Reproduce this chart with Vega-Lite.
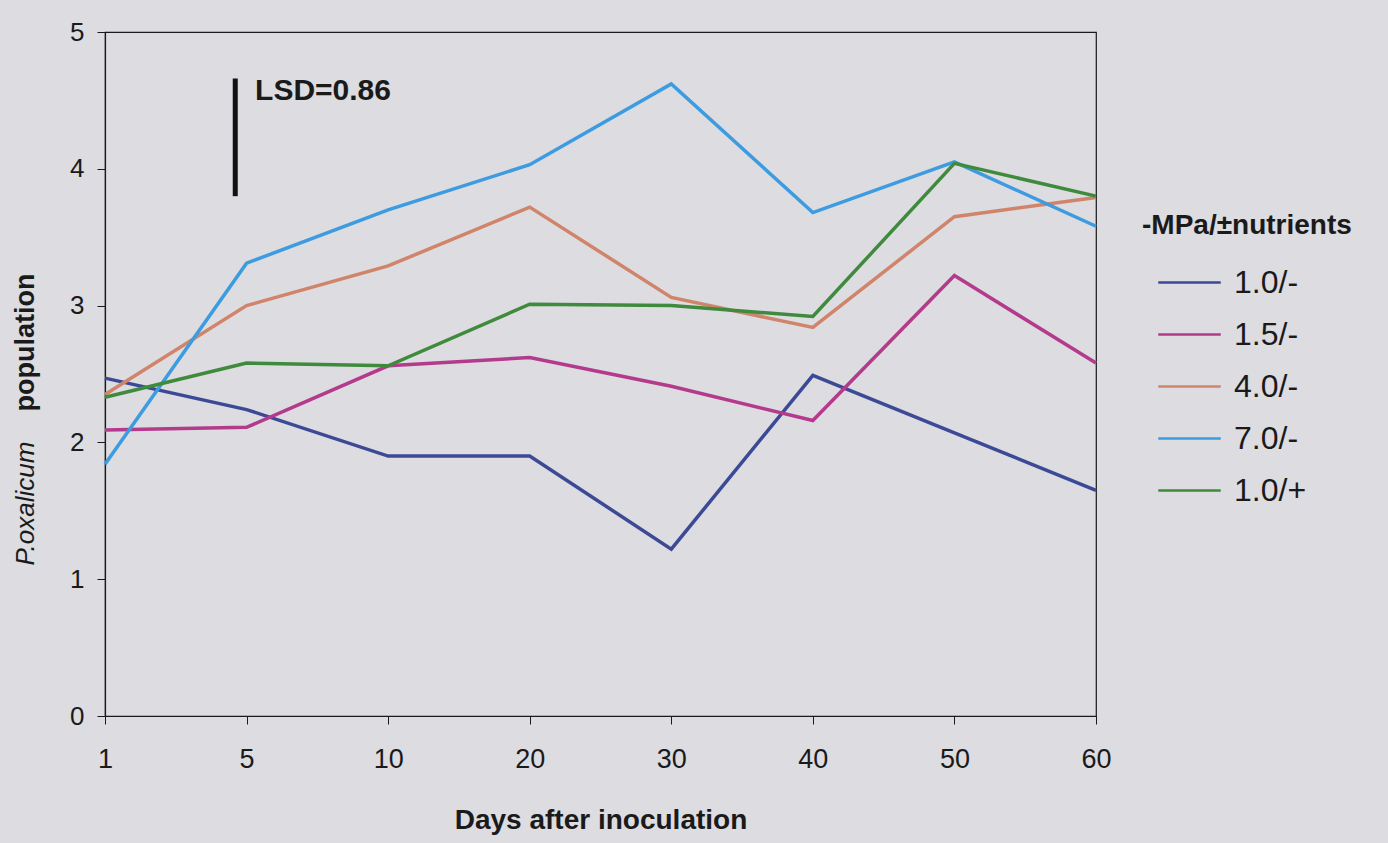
{
  "$schema": "https://vega.github.io/schema/vega-lite/v6.json",
  "width": 991,
  "height": 684,
  "autosize": {"type": "none"},
  "padding": {"left": 105, "top": 32, "right": 292, "bottom": 127},
  "background": "#dcdce1",
  "config": {
    "font": "Liberation Sans",
    "view": {"stroke": "#1a1a1a", "strokeWidth": 1.2},
    "axis": {
      "grid": false,
      "domainColor": "#1a1a1a",
      "tickColor": "#1a1a1a",
      "labelColor": "#1a1a1a",
      "titleColor": "#1a1a1a",
      "labelFont": "Liberation Sans",
      "titleFont": "Liberation Sans"
    }
  },
  "data": {
    "values": [
      {"series": "1.0/-", "day": 1, "value": 2.47},
      {"series": "1.0/-", "day": 5, "value": 2.24},
      {"series": "1.0/-", "day": 10, "value": 1.9},
      {"series": "1.0/-", "day": 20, "value": 1.9},
      {"series": "1.0/-", "day": 30, "value": 1.22},
      {"series": "1.0/-", "day": 40, "value": 2.49},
      {"series": "1.0/-", "day": 50, "value": 2.07},
      {"series": "1.0/-", "day": 60, "value": 1.65},
      {"series": "1.5/-", "day": 1, "value": 2.09},
      {"series": "1.5/-", "day": 5, "value": 2.11},
      {"series": "1.5/-", "day": 10, "value": 2.56},
      {"series": "1.5/-", "day": 20, "value": 2.62},
      {"series": "1.5/-", "day": 30, "value": 2.41},
      {"series": "1.5/-", "day": 40, "value": 2.16},
      {"series": "1.5/-", "day": 50, "value": 3.22},
      {"series": "1.5/-", "day": 60, "value": 2.58},
      {"series": "4.0/-", "day": 1, "value": 2.35},
      {"series": "4.0/-", "day": 5, "value": 3.0},
      {"series": "4.0/-", "day": 10, "value": 3.29},
      {"series": "4.0/-", "day": 20, "value": 3.72},
      {"series": "4.0/-", "day": 30, "value": 3.06},
      {"series": "4.0/-", "day": 40, "value": 2.84},
      {"series": "4.0/-", "day": 50, "value": 3.65},
      {"series": "4.0/-", "day": 60, "value": 3.79},
      {"series": "7.0/-", "day": 1, "value": 1.84},
      {"series": "7.0/-", "day": 5, "value": 3.31},
      {"series": "7.0/-", "day": 10, "value": 3.7},
      {"series": "7.0/-", "day": 20, "value": 4.03},
      {"series": "7.0/-", "day": 30, "value": 4.62},
      {"series": "7.0/-", "day": 40, "value": 3.68},
      {"series": "7.0/-", "day": 50, "value": 4.05},
      {"series": "7.0/-", "day": 60, "value": 3.58},
      {"series": "1.0/+", "day": 1, "value": 2.33},
      {"series": "1.0/+", "day": 5, "value": 2.58},
      {"series": "1.0/+", "day": 10, "value": 2.56},
      {"series": "1.0/+", "day": 20, "value": 3.01},
      {"series": "1.0/+", "day": 30, "value": 3.0},
      {"series": "1.0/+", "day": 40, "value": 2.92},
      {"series": "1.0/+", "day": 50, "value": 4.04},
      {"series": "1.0/+", "day": 60, "value": 3.8}
    ]
  },
  "resolve": {"scale": {"x": "independent", "y": "independent"}},
  "layer": [
    {
      "mark": {"type": "line", "strokeWidth": 3.5},
      "encoding": {
        "x": {
          "field": "day",
          "type": "ordinal",
          "sort": [1, 5, 10, 20, 30, 40, 50, 60],
          "scale": {"type": "point", "padding": 0},
          "axis": {
            "title": "Days after inoculation",
            "titleFontSize": 28,
            "titleFontWeight": "bold",
            "titlePadding": 34,
            "labelAngle": 0,
            "labelFontSize": 27,
            "labelPadding": 22,
            "tickSize": 8,
            "domainWidth": 1.2
          }
        },
        "y": {
          "field": "value",
          "type": "quantitative",
          "scale": {"domain": [0, 5], "nice": false},
          "axis": {
            "values": [0, 1, 2, 3, 4, 5],
            "title": "P.oxalicum",
            "titleFontSize": 26,
            "titleFontStyle": "italic",
            "titleFontWeight": "normal",
            "titleAngle": 270,
            "titleX": -80,
            "titleY": 471,
            "titleAlign": "center",
            "titleBaseline": "middle",
            "labelFontSize": 26,
            "labelPadding": 13,
            "tickSize": 8,
            "domainWidth": 1.2
          }
        },
        "color": {
          "field": "series",
          "type": "nominal",
          "sort": ["1.0/-", "1.5/-", "4.0/-", "7.0/-", "1.0/+"],
          "scale": {
            "domain": ["1.0/-", "1.5/-", "4.0/-", "7.0/-", "1.0/+"],
            "range": ["#3c4a96", "#b43a8c", "#d0846a", "#3d9be0", "#3f8a3c"]
          },
          "legend": {
            "title": "-MPa/±nutrients",
            "orient": "none",
            "legendX": 1037,
            "legendY": 180,
            "padding": 0,
            "titleFontSize": 28,
            "titleFontWeight": "bold",
            "titleColor": "#1a1a1a",
            "titleLimit": 400,
            "titlePadding": 16,
            "labelFontSize": 32,
            "labelColor": "#1a1a1a",
            "labelLimit": 300,
            "labelOffset": 18,
            "symbolType": "M-1.25,0H1.25",
            "symbolSize": 2500,
            "symbolStrokeWidth": 2.5,
            "symbolOffset": 21,
            "rowPadding": 9
          }
        }
      }
    },
    {
      "data": {"values": [{"label": "LSD=0.86", "low": 3.8, "high": 4.66}]},
      "mark": {"type": "rule", "strokeWidth": 5, "color": "#111111"},
      "encoding": {
        "x": {"datum": 0.92, "type": "quantitative", "scale": {"domain": [0, 7]}, "axis": null},
        "y": {"field": "low", "type": "quantitative", "scale": {"domain": [0, 5], "nice": false}, "axis": null},
        "y2": {"field": "high"}
      }
    },
    {
      "data": {"values": [{"label": "LSD=0.86", "low": 3.8, "high": 4.66}]},
      "mark": {"type": "text", "align": "left", "baseline": "middle", "fontSize": 30, "fontWeight": "bold", "color": "#1a1a1a"},
      "encoding": {
        "x": {"datum": 1.06, "type": "quantitative", "scale": {"domain": [0, 7]}, "axis": null},
        "y": {"datum": 4.57, "type": "quantitative", "scale": {"domain": [0, 5], "nice": false}, "axis": null},
        "text": {"field": "label"}
      }
    },
    {
      "mark": {"type": "rule", "opacity": 0},
      "encoding": {
        "y": {
          "field": "value",
          "type": "quantitative",
          "scale": {"domain": [0, 5], "nice": false},
          "axis": {
            "orient": "left",
            "title": "population",
            "titleFontSize": 27,
            "titleFontWeight": "bold",
            "titleAngle": 270,
            "titleX": -80,
            "titleY": 310,
            "titleAlign": "center",
            "titleBaseline": "middle",
            "labels": false,
            "ticks": false,
            "domain": false
          }
        }
      }
    }
  ]
}
